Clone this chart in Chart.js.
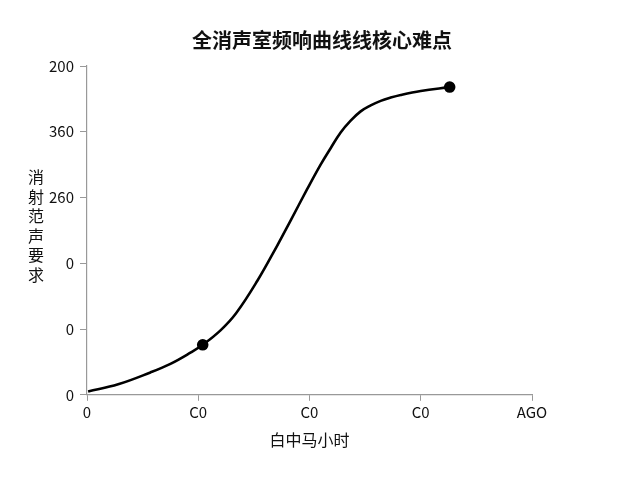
<!DOCTYPE html>
<html>
<head>
<meta charset="utf-8">
<script src="https://cdn.jsdelivr.net/npm/chart.js@4/dist/chart.umd.min.js"></script>
<style>
  html, body { margin: 0; padding: 0; background: #fff; }
  #wrap { width: 640px; height: 480px; }
</style>
</head>
<body>
<div id="wrap"><canvas id="c"></canvas></div>
<script>
const chartTitle = '全消声室频响曲线线核心难点';
const xTitle = '白中马小时';
const yTitle = '消射范声要求';
const xTickLabels = ['0', 'C0', 'C0', 'C0', 'AGO'];
const yTickLabels = ['0', '0', '0', '260', '360', '200'];

// curve (x in tick steps, y in tick steps)
const curveX = [0.01, 0.28, 0.57, 0.75, 0.93, 1.04, 1.20, 1.34, 1.53, 1.71, 1.83, 1.98, 2.10, 2.19, 2.28, 2.37, 2.46, 2.55, 2.64, 2.73, 2.82, 3.00, 3.26];
const curveY = [0.05, 0.16, 0.34, 0.47, 0.64, 0.76, 0.98, 1.24, 1.73, 2.27, 2.65, 3.13, 3.50, 3.75, 3.99, 4.17, 4.31, 4.40, 4.47, 4.52, 4.56, 4.62, 4.68];
const markedIdx = [5, 22];

const FONT = '"Noto Sans CJK SC", "DejaVu Sans", sans-serif';

const extraText = {
  id: 'extraText',
  afterDraw(chart) {
    const ctx = chart.ctx;
    ctx.save();
    ctx.fillStyle = '#111';
    ctx.textAlign = 'center';
    ctx.textBaseline = 'middle';
    ctx.font = 'bold 20px ' + FONT;
    ctx.fillText(chartTitle, 322, 40);
    ctx.font = '16px ' + FONT;
    Array.from(yTitle).forEach((ch, i) => ctx.fillText(ch, 36, 177 + i * 19.5));
    ctx.restore();
  }
};

new Chart(document.getElementById('c'), {
  type: 'line',
  data: {
    datasets: [{
      data: curveX.map((x, i) => ({ x, y: curveY[i] })),
      borderColor: '#000',
      backgroundColor: '#000',
      borderWidth: 2.6,
      tension: 0.4,
      pointRadius: curveX.map((_, i) => markedIdx.includes(i) ? 4.5 : 0),
      pointHoverRadius: 0,
    }],
  },
  options: {
    responsive: true, maintainAspectRatio: false, animation: false,
    layout: { padding: { left: 10, right: 108, top: 66, bottom: 26 } },
    plugins: {
      legend: { display: false },
      tooltip: { enabled: false },
      title: { display: false },
    },
    scales: {
      x: {
        type: 'linear', min: 0, max: 4,
        border: { color: '#999', width: 1.2 },
        grid: { drawOnChartArea: false, color: '#999', tickLength: 6 },
        ticks: { stepSize: 1, color: '#111', font: { family: FONT, size: 15 }, padding: 2,
                 callback: v => xTickLabels[v] },
        title: { display: true, text: xTitle, color: '#111', font: { family: FONT, size: 16 }, padding: { top: 8 } },
      },
      y: {
        type: 'linear', min: 0, max: 5,
        border: { color: '#999', width: 1.2 },
        grid: { drawOnChartArea: false, color: '#999', tickLength: 7 },
        ticks: { stepSize: 1, color: '#111', font: { family: FONT, size: 15 }, padding: 6,
                 callback: v => yTickLabels[v] },
        afterFit: s => { s.width = 77; },
      },
    },
  },
  plugins: [extraText],
});
</script>
</body>
</html>
